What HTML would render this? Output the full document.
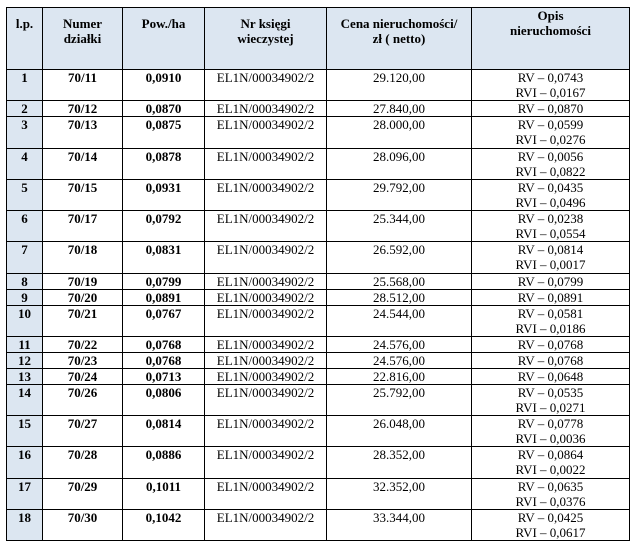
<!DOCTYPE html>
<html><head><meta charset="utf-8"><style>
body{margin:0;background:#fff;width:634px;height:556px;overflow:hidden}
table{position:absolute;left:6px;top:7px;border-collapse:collapse;table-layout:fixed;font-family:"Liberation Serif",serif;font-size:13px;color:#000}
td,th{border:1px solid #000;padding:0;text-align:center;vertical-align:top;line-height:15px;overflow:hidden}
th{background:#dce6f1;font-weight:bold;height:62px;padding-top:8px;box-sizing:border-box}
td.l{background:#dce6f1}
td.b{font-weight:bold}
tr.d td{height:31.25px;box-sizing:border-box;padding-top:0}
tr.s td{height:16px;box-sizing:border-box;padding-top:0}
</style></head><body>
<table>
<colgroup><col style="width:36px"><col style="width:80px"><col style="width:82px"><col style="width:122px"><col style="width:145px"><col style="width:158px"></colgroup>
<tr><th>l.p.</th><th>Numer<br>działki</th><th>Pow./ha</th><th>Nr księgi<br>wieczystej</th><th>Cena nieruchomości/<br>zł ( netto)</th><th style="padding-top:0">Opis<br>nieruchomości</th></tr>
<tr class="d"><td class="l b">1</td><td class="b">70/11</td><td class="b">0,0910</td><td>EL1N/00034902/2</td><td>29.120,00</td><td>RV – 0,0743<br>RVI – 0,0167</td></tr>
<tr class="s"><td class="l b">2</td><td class="b">70/12</td><td class="b">0,0870</td><td>EL1N/00034902/2</td><td>27.840,00</td><td>RV – 0,0870</td></tr>
<tr class="d"><td class="l b">3</td><td class="b">70/13</td><td class="b">0,0875</td><td>EL1N/00034902/2</td><td>28.000,00</td><td>RV – 0,0599<br>RVI – 0,0276</td></tr>
<tr class="d"><td class="l b">4</td><td class="b">70/14</td><td class="b">0,0878</td><td>EL1N/00034902/2</td><td>28.096,00</td><td>RV – 0,0056<br>RVI – 0,0822</td></tr>
<tr class="d"><td class="l b">5</td><td class="b">70/15</td><td class="b">0,0931</td><td>EL1N/00034902/2</td><td>29.792,00</td><td>RV – 0,0435<br>RVI – 0,0496</td></tr>
<tr class="d"><td class="l b">6</td><td class="b">70/17</td><td class="b">0,0792</td><td>EL1N/00034902/2</td><td>25.344,00</td><td>RV – 0,0238<br>RVI – 0,0554</td></tr>
<tr class="d"><td class="l b">7</td><td class="b">70/18</td><td class="b">0,0831</td><td>EL1N/00034902/2</td><td>26.592,00</td><td>RV – 0,0814<br>RVI – 0,0017</td></tr>
<tr class="s"><td class="l b">8</td><td class="b">70/19</td><td class="b">0,0799</td><td>EL1N/00034902/2</td><td>25.568,00</td><td>RV – 0,0799</td></tr>
<tr class="s"><td class="l b">9</td><td class="b">70/20</td><td class="b">0,0891</td><td>EL1N/00034902/2</td><td>28.512,00</td><td>RV – 0,0891</td></tr>
<tr class="d"><td class="l b">10</td><td class="b">70/21</td><td class="b">0,0767</td><td>EL1N/00034902/2</td><td>24.544,00</td><td>RV – 0,0581<br>RVI – 0,0186</td></tr>
<tr class="s"><td class="l b">11</td><td class="b">70/22</td><td class="b">0,0768</td><td>EL1N/00034902/2</td><td>24.576,00</td><td>RV – 0,0768</td></tr>
<tr class="s"><td class="l b">12</td><td class="b">70/23</td><td class="b">0,0768</td><td>EL1N/00034902/2</td><td>24.576,00</td><td>RV – 0,0768</td></tr>
<tr class="s"><td class="l b">13</td><td class="b">70/24</td><td class="b">0,0713</td><td>EL1N/00034902/2</td><td>22.816,00</td><td>RV – 0,0648</td></tr>
<tr class="d"><td class="l b">14</td><td class="b">70/26</td><td class="b">0,0806</td><td>EL1N/00034902/2</td><td>25.792,00</td><td>RV – 0,0535<br>RVI – 0,0271</td></tr>
<tr class="d"><td class="l b">15</td><td class="b">70/27</td><td class="b">0,0814</td><td>EL1N/00034902/2</td><td>26.048,00</td><td>RV – 0,0778<br>RVI – 0,0036</td></tr>
<tr class="d"><td class="l b">16</td><td class="b">70/28</td><td class="b">0,0886</td><td>EL1N/00034902/2</td><td>28.352,00</td><td>RV – 0,0864<br>RVI – 0,0022</td></tr>
<tr class="d"><td class="l b">17</td><td class="b">70/29</td><td class="b">0,1011</td><td>EL1N/00034902/2</td><td>32.352,00</td><td>RV – 0,0635<br>RVI – 0,0376</td></tr>
<tr class="d"><td class="l b">18</td><td class="b">70/30</td><td class="b">0,1042</td><td>EL1N/00034902/2</td><td>33.344,00</td><td>RV – 0,0425<br>RVI – 0,0617</td></tr>
</table>
</body></html>
